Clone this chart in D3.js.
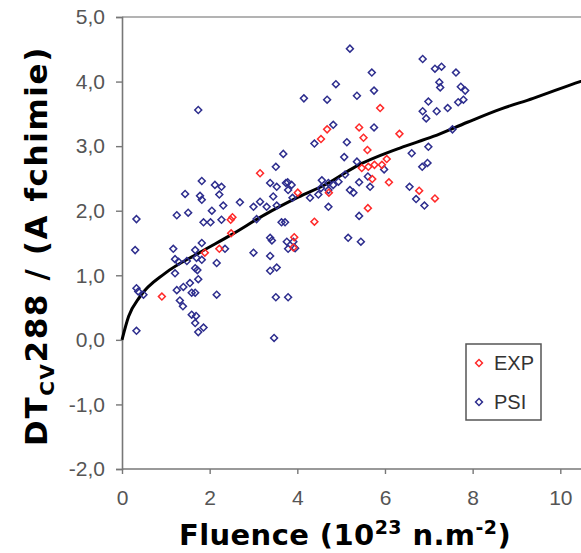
<!DOCTYPE html>
<html>
<head>
<meta charset="utf-8">
<script src="https://cdn.jsdelivr.net/npm/d3@7"></script>
<style>
  body { margin: 0; background: #fff; }
  svg { display: block; }
</style>
</head>
<body>
<div id="chart"></div>
<script>
const WIDTH = 581;
const HEIGHT = 553;

// --------------- Data ---------------
const psiX = [0.33, 0.30, 0.33, 0.37, 0.49, 0.33, 1.74, 1.82, 2.12, 2.27, 1.44, 1.78, 1.82, 2.22, 2.69, 2.31, 2.05, 1.25, 1.51, 1.86,
  2.02, 2.27, 3.00, 3.15, 3.30, 3.07, 3.38, 3.53, 3.45, 3.53, 3.74, 3.64, 3.38, 3.42, 3.76, 3.38, 3.00, 3.79, 1.17, 1.67,
  1.82, 2.35, 1.21, 1.29, 1.48, 1.70, 1.82, 2.16, 1.67, 1.72, 1.21, 1.74, 1.25, 1.40, 1.55, 1.59, 1.67, 2.16, 1.32, 1.39,
  1.59, 1.69, 1.67, 1.86, 1.74, 3.53, 3.38, 3.51, 3.79, 3.47, 3.68, 3.51, 4.39, 5.13, 5.07, 5.36, 5.98, 6.61, 5.09, 4.56,
  4.71, 4.82, 4.94, 3.78, 3.87, 3.79, 3.89, 4.29, 4.48, 4.54, 4.71, 5.20, 5.28, 5.41, 5.61, 5.66, 4.71, 5.41, 5.16, 5.45,
  3.72, 3.91, 3.95, 6.56, 6.71, 6.90, 5.20, 6.86, 7.14, 7.29, 7.62, 5.70, 7.24, 7.26, 7.73, 7.83, 4.88, 5.75, 4.15, 4.68,
  5.36, 6.99, 6.86, 6.94, 7.18, 7.43, 7.67, 7.79, 4.82, 5.75, 7.54, 6.99, 6.85, 6.97];
const psiY = [1.87, 1.39, 0.80, 0.75, 0.70, 0.14, 3.56, 2.46, 2.40, 2.37, 2.26, 2.23, 2.17, 2.25, 2.13, 2.08, 2.00, 1.93, 1.97, 1.82,
  1.82, 1.86, 2.06, 2.14, 2.06, 1.87, 2.43, 2.37, 2.22, 2.08, 2.43, 1.82, 1.58, 1.54, 1.52, 1.30, 1.35, 1.41, 1.41, 1.39,
  1.50, 1.41, 1.25, 1.21, 1.22, 1.27, 1.24, 1.19, 1.11, 1.08, 1.03, 0.94, 0.77, 0.82, 0.88, 0.73, 0.73, 0.70, 0.61, 0.52,
  0.39, 0.37, 0.26, 0.19, 0.12, 1.12, 1.07, 0.66, 0.66, 0.03, 2.88, 2.68, 3.04, 3.06, 2.83, 2.76, 2.64, 2.89, 2.56, 2.47,
  2.43, 2.40, 2.45, 2.44, 2.40, 2.32, 2.20, 2.20, 2.25, 2.35, 2.32, 2.32, 2.28, 2.44, 2.53, 2.37, 2.06, 1.92, 1.58, 1.52,
  1.82, 1.52, 1.42, 2.37, 2.18, 2.08, 4.51, 4.35, 4.20, 4.23, 4.14, 4.14, 3.99, 3.91, 3.92, 3.86, 3.96, 3.86, 3.74, 3.72,
  3.78, 3.69, 3.54, 3.43, 3.54, 3.59, 3.68, 3.72, 3.33, 3.29, 3.26, 2.99, 2.68, 2.74];

const expX = [0.91, 1.89, 2.22, 2.48, 2.52, 2.49, 3.15, 3.93, 3.91, 4.01, 4.39, 4.72, 4.54, 4.68, 5.41, 5.51, 5.89, 6.33, 5.60, 5.47,
  5.62, 5.76, 5.93, 6.04, 5.71, 6.09, 5.61, 6.78, 7.14];
const expY = [0.67, 1.35, 1.41, 1.86, 1.90, 1.65, 2.58, 1.59, 1.43, 2.28, 1.83, 2.28, 3.11, 3.26, 3.29, 3.13, 3.59, 3.19, 2.94, 2.66,
  2.68, 2.71, 2.71, 2.80, 2.49, 2.44, 2.04, 2.31, 2.19];

// trend curve, read at a few places along the black line
const fitX = [0, 0.15, 0.41, 0.98, 1.74, 2.50, 3.26, 4.02, 4.71, 5.32, 6.34, 7.10, 7.88, 8.62, 9.38, 10.45, 11];
const fitY = [0, 0.36, 0.67, 1.03, 1.34, 1.63, 1.94, 2.21, 2.43, 2.68, 2.97, 3.15, 3.37, 3.57, 3.74, 4.00, 4.12];

const xTicks = [0, 2, 4, 6, 8, 10];
const yTicks = [-2, -1, 0, 1, 2, 3, 4, 5];
const seriesNames = ["EXP", "PSI"];
const seriesColors = ["#ff2a2a", "#2e2e8e"];

// --------------- Layout ---------------
const X0 = 122;
const PX_PER_X = 43.83;
const Y_TOP = 17;
const Y_BOTTOM = 469;
const labelFont = "Liberation Sans, Arial, sans-serif";

const svg = d3.select("#chart")
  .append("svg")
  .attr("width", WIDTH)
  .attr("height", HEIGHT);

const x = d3.scaleLinear().domain([0, 12]).range([X0, X0 + 12 * PX_PER_X]);
const y = d3.scaleLinear().domain([-2, 5]).range([Y_BOTTOM, Y_TOP]);

// comma decimals, plain hyphen for negatives
const fmt = d => d3.format(".1f")(d).replace(".", ",").replace("\u2212", "-");

// top border
svg.append("line")
  .attr("x1", X0).attr("x2", WIDTH)
  .attr("y1", Y_TOP).attr("y2", Y_TOP)
  .attr("stroke", "#9a9a9a")
  .attr("stroke-width", 1.5);

// axes
const yAxis = svg.append("g")
  .attr("transform", `translate(${X0},0)`)
  .call(d3.axisLeft(y).tickValues(yTicks).tickFormat(fmt).tickSize(6).tickPadding(11));

const xAxis = svg.append("g")
  .attr("transform", `translate(0,${Y_BOTTOM})`)
  .call(d3.axisBottom(x).tickValues(xTicks).tickFormat(d3.format("d")).tickSize(5).tickPadding(16));

[xAxis, yAxis].forEach(a => {
  a.select(".domain").attr("stroke", "#777").attr("stroke-width", 1.6);
  a.selectAll(".tick line").attr("stroke", "#777").attr("stroke-width", 1.4);
  a.selectAll(".tick text")
    .attr("fill", "#555")
    .attr("font-family", labelFont)
    .attr("font-size", 21);
});
xAxis.select(".domain").attr("d", `M${X0},0H${WIDTH}`);

// fitted curve
const line = d3.line()
  .x(d => x(d[0]))
  .y(d => y(d[1]))
  .curve(d3.curveMonotoneX);

svg.append("path")
  .datum(d3.zip(fitX, fitY))
  .attr("d", line)
  .attr("fill", "none")
  .attr("stroke", "#000")
  .attr("stroke-width", 3);

// scatter points
const diamond = d3.symbol().type(d3.symbolSquare).size(24)();

function drawPoints(xs, ys, color) {
  svg.append("g")
    .selectAll("path")
    .data(d3.zip(xs, ys))
    .enter()
    .append("path")
    .attr("d", diamond)
    .attr("transform", d => `translate(${x(d[0])},${y(d[1])}) rotate(45)`)
    .attr("fill", "none")
    .attr("stroke", color)
    .attr("stroke-width", 1.5);
}

drawPoints(psiX, psiY, seriesColors[1]);
drawPoints(expX, expY, seriesColors[0]);

// legend
const legend = svg.append("g").attr("transform", "translate(466,344)");
legend.append("rect")
  .attr("width", 75)
  .attr("height", 76)
  .attr("fill", "#fff")
  .attr("stroke", "#555")
  .attr("stroke-width", 1.5);

seriesNames.forEach((name, i) => {
  const row = legend.append("g").attr("transform", `translate(0,${19 + i * 39})`);
  row.append("path")
    .attr("d", diamond)
    .attr("transform", "translate(13,0) rotate(45)")
    .attr("fill", "none")
    .attr("stroke", seriesColors[i])
    .attr("stroke-width", 1.5);
  row.append("text")
    .attr("x", 28)
    .attr("dy", "0.36em")
    .attr("font-family", labelFont)
    .attr("font-size", 20)
    .attr("fill", "#333")
    .text(name);
});

// axis titles
const titleFont = "'Comic Sans MS', 'DejaVu Sans', sans-serif";

const xt = svg.append("text")
  .attr("x", 345)
  .attr("y", 545)
  .attr("text-anchor", "middle")
  .attr("font-family", titleFont)
  .attr("font-weight", "bold")
  .attr("font-size", 29)
  .attr("letter-spacing", 0.4)
  .attr("fill", "#000");
xt.append("tspan").text("Fluence (10");
xt.append("tspan").attr("dy", -11).attr("font-size", 19).text("23");
xt.append("tspan").attr("dy", 11).text(" n.m");
xt.append("tspan").attr("dy", -11).attr("font-size", 19).text("-2");
xt.append("tspan").attr("dy", 11).text(")");

const yt = svg.append("text")
  .attr("transform", "translate(47,246) rotate(-90)")
  .attr("text-anchor", "middle")
  .attr("font-family", titleFont)
  .attr("font-weight", "bold")
  .attr("font-size", 31)
  .attr("letter-spacing", 1.6)
  .attr("fill", "#000");
yt.append("tspan").text("DT");
yt.append("tspan").attr("dy", 7).attr("font-size", 20).text("CV");
yt.append("tspan").attr("dy", -7).text("288 / (A fchimie)");
</script>
</body>
</html>
